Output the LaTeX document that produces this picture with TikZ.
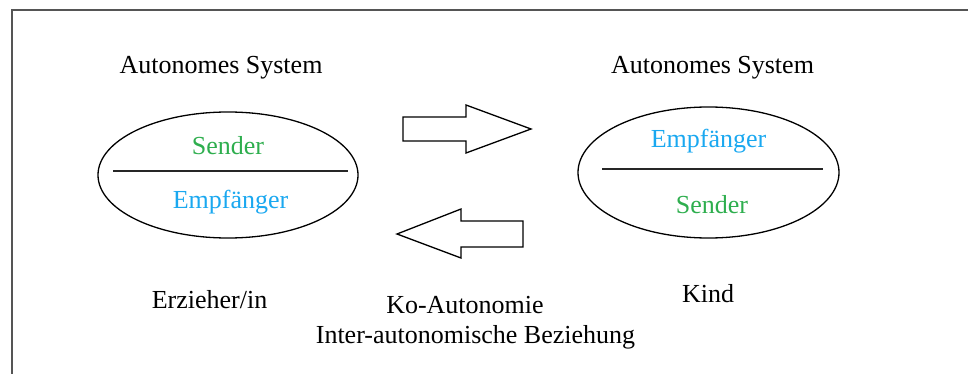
\documentclass[tikz,border=0pt]{standalone}
\usepackage{fontspec}
\setmainfont{Liberation Serif}
\usetikzlibrary{shapes.geometric}
\definecolor{sendgreen}{HTML}{2EAE4E}
\definecolor{recvblue}{HTML}{1AA8F0}
\definecolor{framegray}{HTML}{555555}
\begin{document}
\begin{tikzpicture}[x=1pt,y=-1pt,
  lbl/.style={anchor=base,inner sep=0pt,font=\fontsize{26}{30}\selectfont},
  sys/.style={draw,ellipse,line width=1.3pt,inner sep=0pt},
  sep/.style={line width=1.5pt,draw=black!85},
  bigarrow/.style={draw,line width=1.3pt,line join=miter,fill=white}]
\useasboundingbox (0,0) rectangle (968,374);
\clip (0,0) rectangle (968,374);
\draw[framegray,line width=2.2pt] (12,10) rectangle (990,400);
% titles
\node[lbl] (t1) at (221,74) {Autonomes System};
\node[lbl] (t2) at (712.5,74) {Autonomes System};
% ellipses
\node[sys,minimum width=260,minimum height=126] (e1) at (228,175) {};
\node[sys,minimum width=261,minimum height=131] (e2) at (708.5,172.5) {};
\coordinate (l1a) at (113,171); \coordinate (l1b) at (348,171);
\coordinate (l2a) at (602,169); \coordinate (l2b) at (823,169);
\draw[sep] (l1a) -- (l1b);
\draw[sep] (l2a) -- (l2b);
\node[lbl,text=sendgreen] (s1) at (228,155) {Sender};
\node[lbl,text=recvblue] (r1) at (230.5,208) {Empfänger};
\node[lbl,text=recvblue] (r2) at (708.5,148) {Empfänger};
\node[lbl,text=sendgreen] (s2) at (712,213) {Sender};
% arrows
\draw[bigarrow] (403,117) -- (466,117) -- (466,105) -- (531,129) -- (466,153) -- (466,141) -- (403,141) -- cycle;
\draw[bigarrow] (523,221) -- (461,221) -- (461,209) -- (397,234) -- (461,258) -- (461,247) -- (523,247) -- cycle;
% bottom labels
\node[lbl] (er) at (209.5,308) {Erzieher/in};
\node[lbl] (ko) at (465,313) {Ko-Autonomie};
\node[lbl] (ia) at (475.5,343) {Inter-autonomische Beziehung};
\node[lbl] (ki) at (708,302) {Kind};
\end{tikzpicture}
\end{document}
